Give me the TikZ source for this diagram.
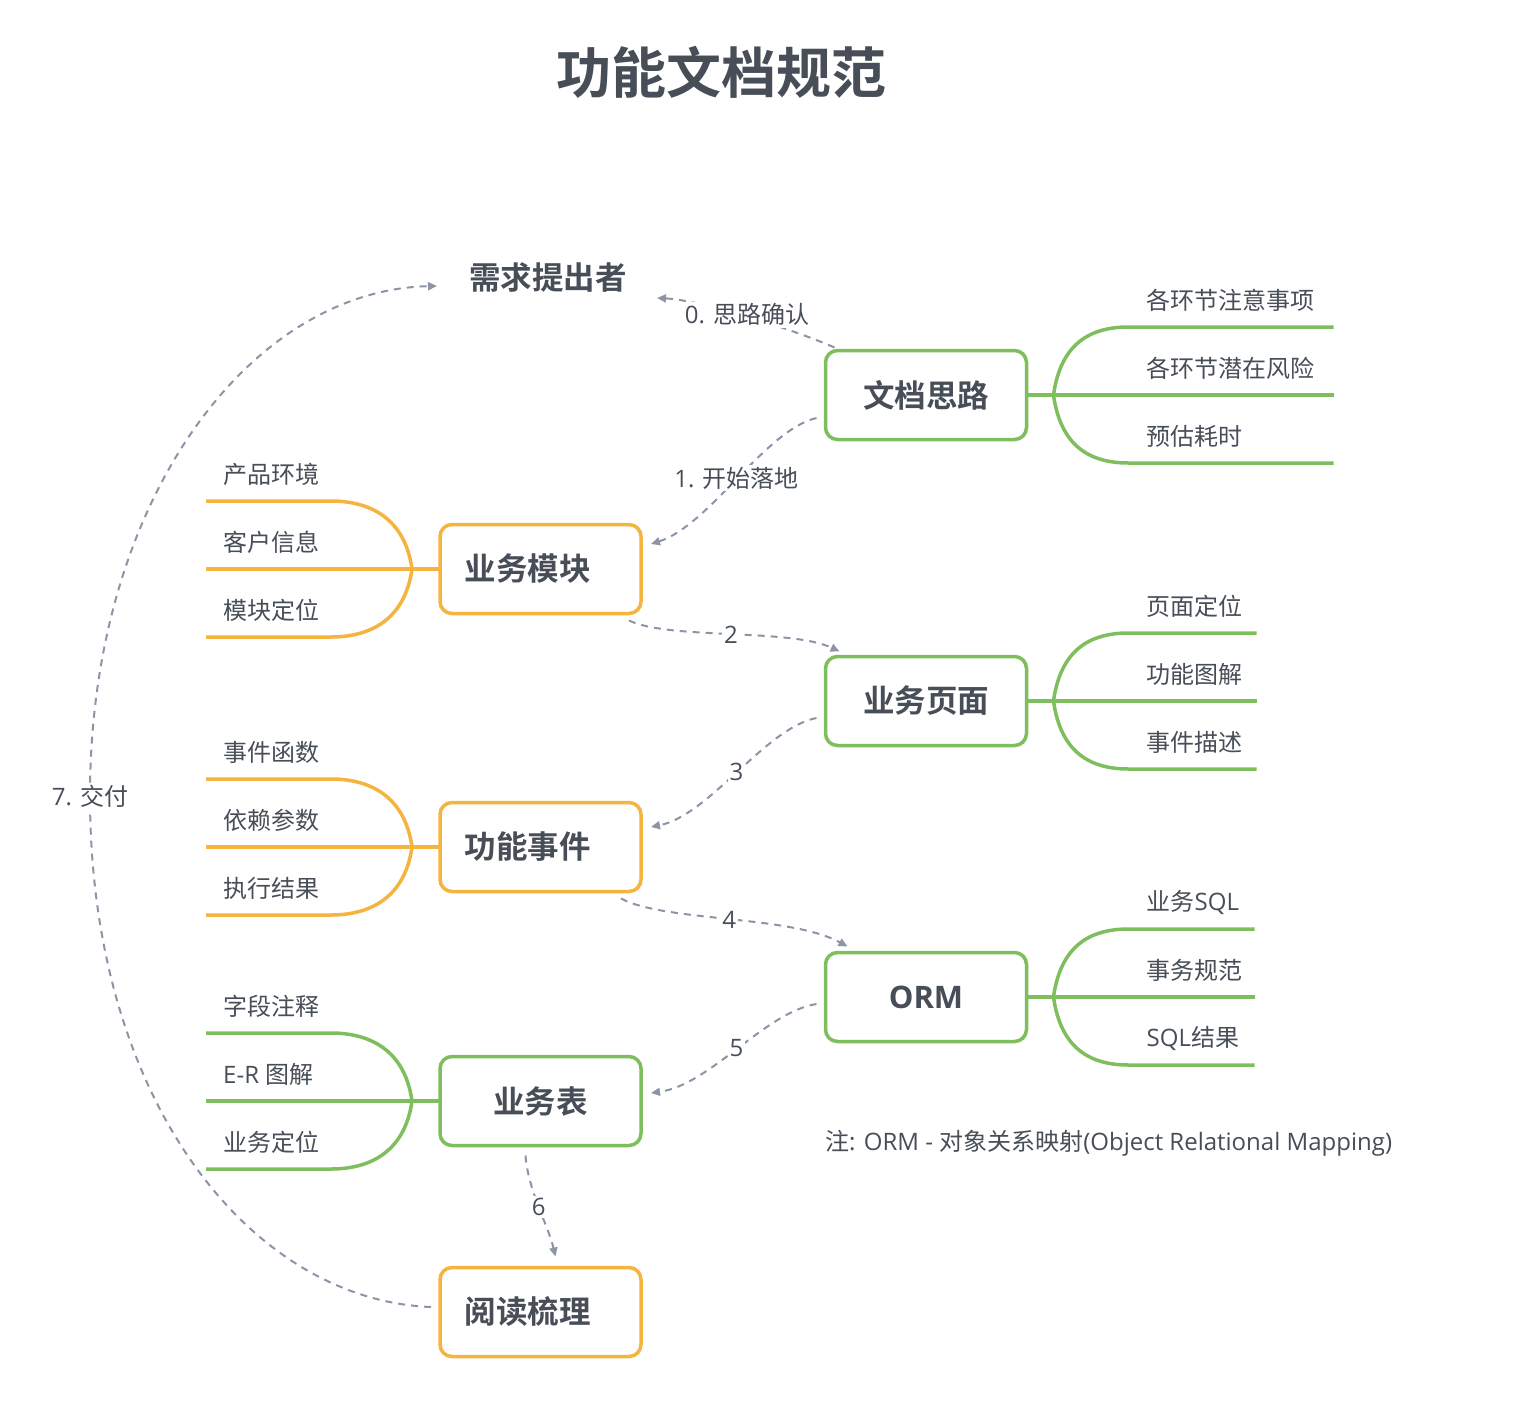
\documentclass[tikz,border=0pt]{standalone}
\usepackage{fontspec}
\setmainfont{Open Sans}
\newfontfamily\cjk{Noto Sans CJK SC}[BoldFont={Noto Sans CJK SC Bold}]
\usetikzlibrary{arrows.meta,calc}
\definecolor{gr}{HTML}{7FBE5C}
\definecolor{og}{HTML}{F4B43E}
\definecolor{tx}{HTML}{474E57}
\definecolor{dl}{HTML}{8C94A6}
\tikzset{
  box/.style={draw, line width=3.5pt, rounded corners=12pt, fill=white,
    minimum width=201pt, minimum height=89pt, outer sep=0pt, inner sep=0pt,
    text=tx, font=\cjk\bfseries\fontsize{31.5}{36}\selectfont},
  branch/.style={line width=3.5pt},
  leaf/.style={inner sep=0pt, text=tx, font=\fontsize{24}{28}\selectfont},
  conn/.style={draw=dl, line width=2pt, dash pattern=on 7pt off 6pt,
    -{Triangle[length=9pt,width=8pt]}},
  clabel/.style={fill=white, inner sep=2pt, text=tx, font=\fontsize{24}{28}\selectfont}
}
\newcommand\rbr[6]{%
  \draw[branch,#2] (#1.east) -- ($(#1.east)+(#3,0)$);
  \draw[branch,#2] ($(#1.east)+(27,0)$) .. controls ($(#1.east)+(34,-50)$) and ($(#1.east)+(62,-68)$) .. ($(#1.east)+(102,-68)$) -- ($(#1.east)+(#3,-68)$);
  \draw[branch,#2] ($(#1.east)+(27,0)$) .. controls ($(#1.east)+(34,50)$) and ($(#1.east)+(62,68)$) .. ($(#1.east)+(102,68)$) -- ($(#1.east)+(#3,68)$);
  \node[leaf,anchor=west] (#1-a) at ($(#1.east)+(120,-95)$) {#4};
  \node[leaf,anchor=west] (#1-b) at ($(#1.east)+(120,-27)$) {#5};
  \node[leaf,anchor=west] (#1-c) at ($(#1.east)+(120,41)$) {#6};
}
\newcommand\lbr[5]{%
  \draw[branch,#2] (#1.west) -- ($(#1.west)+(-234,0)$);
  \draw[branch,#2] ($(#1.west)+(-28,0)$) .. controls ($(#1.west)+(-35,-50)$) and ($(#1.west)+(-69,-68)$) .. ($(#1.west)+(-109,-68)$) -- ($(#1.west)+(-234,-68)$);
  \draw[branch,#2] ($(#1.west)+(-28,0)$) .. controls ($(#1.west)+(-35,50)$) and ($(#1.west)+(-69,68)$) .. ($(#1.west)+(-109,68)$) -- ($(#1.west)+(-234,68)$);
  \node[leaf,anchor=west] (#1-a) at ($(#1.west)+(-217,-95)$) {#3};
  \node[leaf,anchor=west] (#1-b) at ($(#1.west)+(-217,-27)$) {#4};
  \node[leaf,anchor=west] (#1-c) at ($(#1.west)+(-217,41)$) {#5};
}
\begin{document}
\begin{tikzpicture}[x=1pt,y=-1pt]
\fill[white] (0,0) rectangle (1522,1402);
\useasboundingbox (0,0) rectangle (1522,1402);

\node[text=tx, font=\cjk\bfseries\fontsize{55}{60}\selectfont] (title) at (721,72) {功能文档规范};
\node[text=tx, font=\cjk\bfseries\fontsize{31.5}{36}\selectfont] (xq) at (548,278) {需求提出者};

\node[box,draw=gr] (wdsl) at (926,395) {文档思路};
\node[box,draw=og] (ywmk) at (540.5,569) {\hspace*{-26pt}业务模块};
\node[box,draw=gr] (ywym) at (926,701) {业务页面};
\node[box,draw=og] (gnsj) at (540.5,847) {\hspace*{-26pt}功能事件};
\node[box,draw=gr,font=\bfseries\fontsize{31}{36}\selectfont] (orm) at (926,997) {ORM};
\node[box,draw=gr] (ywb) at (540.5,1101) {业务表};
\node[box,draw=og] (ydsl) at (540.5,1312) {\hspace*{-26pt}阅读梳理};

\rbr{wdsl}{gr}{307}{{\cjk 各环节注意事项}}{{\cjk 各环节潜在风险}}{{\cjk 预估耗时}}
\rbr{ywym}{gr}{230}{{\cjk 页面定位}}{{\cjk 功能图解}}{{\cjk 事件描述}}
\rbr{orm}{gr}{228}{{\cjk 业务}SQL}{{\cjk 事务规范}}{SQL{\cjk 结果}}
\lbr{ywmk}{og}{{\cjk 产品环境}}{{\cjk 客户信息}}{{\cjk 模块定位}}
\lbr{gnsj}{og}{{\cjk 事件函数}}{{\cjk 依赖参数}}{{\cjk 执行结果}}
\lbr{ywb}{gr}{{\cjk 字段注释}}{E-R {\cjk 图解}}{{\cjk 业务定位}}

\draw[conn] ($(wdsl.north west)+(9,-3)$) .. controls (790,328) and (700,300) .. node[clabel,pos=0.49,yshift=2pt] {0. {\cjk 思路确认}} ($(xq)+(109,20)$);
\draw[conn] ($(wdsl.west)+(-9,23)$) .. controls (765,430) and (710,525) .. node[clabel] {1. {\cjk 开始落地}} ($(ywmk.east)+(10,-25)$);
\draw[conn] ($(ywmk.south east)+(-12,7)$) .. controls (670,640) and (790,628) .. node[clabel] {2} ($(ywym.north west)+(14,-5)$);
\draw[conn] ($(ywym.west)+(-9,17)$) .. controls (765,728) and (710,815) .. node[clabel] {3} ($(gnsj.east)+(10,-20)$);
\draw[conn] ($(gnsj.south east)+(-20,7)$) .. controls (665,922) and (790,915) .. node[clabel] {4} ($(orm.north west)+(22,-6)$);
\draw[conn] ($(orm.west)+(-9,7)$) .. controls (765,1012) and (710,1085) .. node[clabel] {5} ($(ywb.east)+(10,-8)$);
\draw[conn] ($(ywb.south)+(-15,10)$) .. controls (528,1190) and (548,1225) .. node[clabel] {6} ($(ydsl.north)+(15,-11)$);
\draw[conn] ($(ydsl.west)+(-9,-5)$) .. controls (250,1300) and (90,1100) .. (90,796) node[clabel] {7. {\cjk 交付}} .. controls (90,500) and (250,290) .. ($(xq)+(-111,8)$);

\node[leaf,anchor=west] (note) at (825,1143) {{\cjk 注}: ORM - {\cjk 对象关系映射}(Object Relational Mapping)};
\end{tikzpicture}
\end{document}
